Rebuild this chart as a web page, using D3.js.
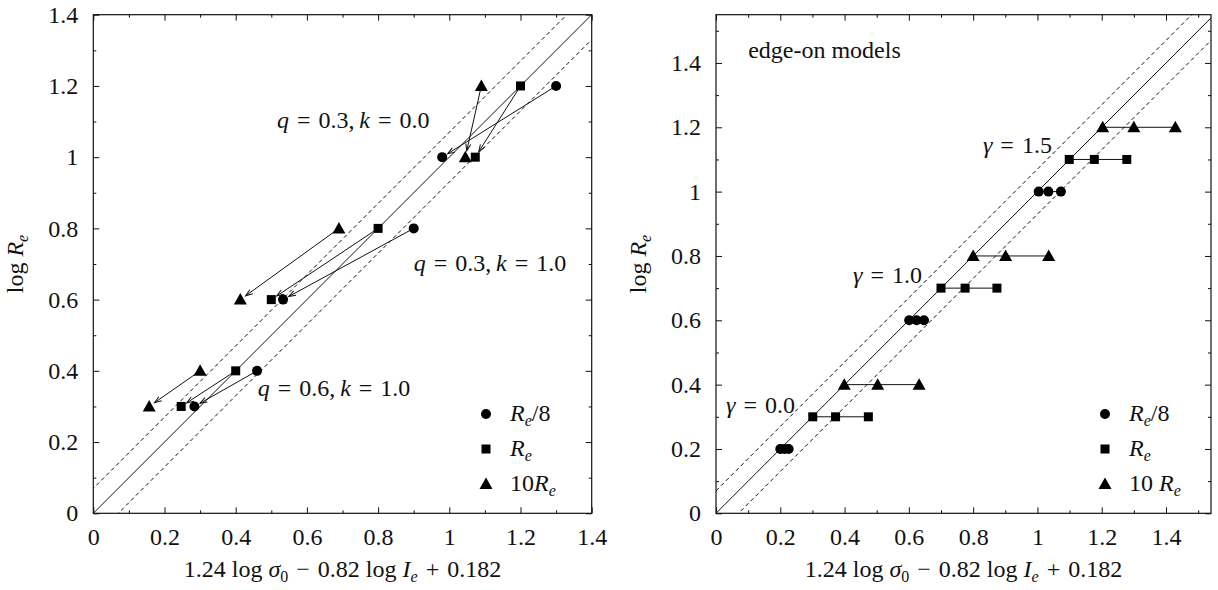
<!DOCTYPE html>
<html>
<head>
<meta charset="utf-8">
<script src="https://cdn.jsdelivr.net/npm/d3@7"></script>
<style>
  body { margin: 0; background: #fff; }
  svg { display: block; font-family: "Liberation Serif", "DejaVu Serif", serif; }
  .tick line { stroke: #111; stroke-width: 1; }
  .frame { fill: none; stroke: #111; stroke-width: 1.2; }
  .fit { fill: none; stroke: #111; stroke-width: 1; }
  .fit.dashed { stroke-dasharray: 4 3; }
  .link { stroke: #111; stroke-width: 1; fill: none; }
  .note { font-size: 24px; fill: #111; white-space: pre; }
</style>
</head>
<body>
<svg id="chart" width="1218" height="590"></svg>
<script>
// ---- data ----

// fitted relation: log Re = x + offset
var fitOffsets = [0, 0.07, -0.07];

// left panel: projected models, each arrow goes from (x0, y0) to (x1, y1)
var leftArrows = [
  // marker, x0, y0, x1, y1
  ['circle',   1.30,  1.2, 0.98,  1.0],
  ['square',   1.20,  1.2, 1.073, 1.0],
  ['triangle', 1.09,  1.2, 1.045, 1.0],
  ['circle',   0.90,  0.8, 0.533, 0.6],
  ['square',   0.80,  0.8, 0.50,  0.6],
  ['triangle', 0.69,  0.8, 0.413, 0.6],
  ['circle',   0.46,  0.4, 0.284, 0.3],
  ['square',   0.40,  0.4, 0.247, 0.3],
  ['triangle', 0.30,  0.4, 0.157, 0.3]
];

var leftNotes = [['0.3', '0.0'], ['0.3', '1.0'], ['0.6', '1.0']];   // q, k

// right panel: edge-on models, one row per aperture and gamma
var rightRows = [
  ['circle',   0.2, [0.200, 0.213, 0.226]],
  ['square',   0.3, [0.301, 0.372, 0.474]],
  ['triangle', 0.4, [0.399, 0.503, 0.632]],
  ['circle',   0.6, [0.601, 0.624, 0.647]],
  ['square',   0.7, [0.700, 0.775, 0.874]],
  ['triangle', 0.8, [0.800, 0.901, 1.035]],
  ['circle',   1.0, [1.004, 1.034, 1.073]],
  ['square',   1.1, [1.099, 1.177, 1.278]],
  ['triangle', 1.2, [1.203, 1.300, 1.429]]
];

var gammaNotes = ['0.0', '1.0', '1.5'];

var legendLeft = [['circle', 'R', '/8', ''], ['square', 'R', '', ''], ['triangle', 'R', '', '10']];
var legendRight = [['circle', 'R', '/8', ''], ['square', 'R', '', ''], ['triangle', 'R', '', '10 ']];

var majorTicks = [0, 0.2, 0.4, 0.6, 0.8, 1.0, 1.2, 1.4];
var minorTicksLeft = [0.1, 0.3, 0.5, 0.7, 0.9, 1.1, 1.3];
var minorTicksRight = [0.1, 0.3, 0.5, 0.7, 0.9, 1.1, 1.3, 1.5];

// ---- drawing ----
var svg = d3.select('#chart');
var EQ = '\u2004=\u2004';
var SERIF = '"Liberation Serif", "DejaVu Serif", serif';

function fmt(d) { return String(+d.toFixed(1)); }

function symbol(g, kind, cx, cy) {
  if (kind === 'circle') {
    g.append('circle').attr('cx', cx).attr('cy', cy).attr('r', 5).attr('fill', '#000');
  } else if (kind === 'square') {
    g.append('rect').attr('x', cx - 4.5).attr('y', cy - 4.5)
     .attr('width', 9).attr('height', 9).attr('fill', '#000');
  } else {
    g.append('path')
     .attr('d', 'M' + (cx - 6.5) + ',' + (cy + 5) + 'L' + (cx + 6.5) + ',' + (cy + 5) + 'L' + cx + ',' + (cy - 6.5) + 'Z')
     .attr('fill', '#000');
  }
}

// subscript-e label such as R_e/8, 10 R_e
function reLabel(text, pre, sym, post) {
  if (pre) text.append('tspan').text(pre);
  text.append('tspan').attr('font-style', 'italic').text(sym);
  text.append('tspan').attr('font-style', 'italic').attr('font-size', '16px').attr('dy', 5).text('e');
  if (post) text.append('tspan').attr('dy', -5).text(post);
}

function panel(opts) {
  var x = d3.scaleLinear().domain([0, opts.xmax]).range([opts.left, opts.right]);
  var y = d3.scaleLinear().domain([0, opts.ymax]).range([513.3, 14.7]);
  var g = svg.append('g');

  var clipId = 'clip' + opts.id;
  svg.append('clipPath').attr('id', clipId).append('rect')
     .attr('x', x(0)).attr('y', y(opts.ymax))
     .attr('width', x(opts.xmax) - x(0)).attr('height', y(0) - y(opts.ymax));

  // axes with inward ticks, mirrored on top and right
  function addAxis(axis, tr, labels) {
    var a = g.append('g').attr('transform', tr).call(axis);
    a.select('.domain').remove();
    a.style('font-family', SERIF).style('font-size', '24px');
    if (!labels) a.selectAll('text').remove();
    a.selectAll('text').style('font-family', SERIF).style('font-size', '24px').attr('fill', '#111');
    return a;
  }
  var minor = opts.minor;
  addAxis(d3.axisBottom(x).tickValues(majorTicks).tickSize(-6).tickPadding(15).tickFormat(fmt), 'translate(0,' + y(0) + ')', true);
  addAxis(d3.axisBottom(x).tickValues(minor).tickSize(-3), 'translate(0,' + y(0) + ')', false);
  addAxis(d3.axisTop(x).tickValues(majorTicks).tickSize(-6), 'translate(0,' + y(opts.ymax) + ')', false);
  addAxis(d3.axisTop(x).tickValues(minor).tickSize(-3), 'translate(0,' + y(opts.ymax) + ')', false);
  addAxis(d3.axisLeft(y).tickValues(majorTicks).tickSize(-6).tickPadding(15).tickFormat(fmt), 'translate(' + x(0) + ',0)', true);
  addAxis(d3.axisLeft(y).tickValues(minor).tickSize(-3), 'translate(' + x(0) + ',0)', false);
  addAxis(d3.axisRight(y).tickValues(majorTicks).tickSize(-6), 'translate(' + x(opts.xmax) + ',0)', false);
  addAxis(d3.axisRight(y).tickValues(minor).tickSize(-3), 'translate(' + x(opts.xmax) + ',0)', false);

  // fitted relation and its scatter band
  var fits = g.append('g').attr('clip-path', 'url(#' + clipId + ')');
  fitOffsets.forEach(function(off) {
    var line = d3.line().x(function(d) { return x(d); }).y(function(d) { return y(d + off); });
    fits.append('path').datum([-0.2, 1.8])
        .attr('class', off === 0 ? 'fit' : 'fit dashed')
        .attr('d', line);
  });

  g.append('rect').attr('class', 'frame')
   .attr('x', x(0)).attr('y', y(opts.ymax))
   .attr('width', x(opts.xmax) - x(0)).attr('height', y(0) - y(opts.ymax));

  // axis titles
  var xt = g.append('text').attr('class', 'note').attr('text-anchor', 'middle')
            .attr('x', (x(0) + x(opts.xmax)) / 2).attr('y', 577);
  xt.append('tspan').text('1.24 log ');
  xt.append('tspan').attr('font-style', 'italic').text('σ');
  xt.append('tspan').attr('font-size', '16px').attr('dy', 5).text('0');
  xt.append('tspan').attr('dy', -5).text('\u2004−\u20040.82 log ');
  xt.append('tspan').attr('font-style', 'italic').text('I');
  xt.append('tspan').attr('font-style', 'italic').attr('font-size', '16px').attr('dy', 5).text('e');
  xt.append('tspan').attr('dy', -5).text('\u2004+\u20040.182');

  var yt = g.append('text').attr('class', 'note').attr('text-anchor', 'middle')
            .attr('transform', 'translate(' + (x(0) - 70) + ',' + ((y(0) + y(opts.ymax)) / 2) + ') rotate(-90)');
  yt.append('tspan').text('log ');
  yt.append('tspan').attr('font-style', 'italic').text('R');
  yt.append('tspan').attr('font-style', 'italic').attr('font-size', '16px').attr('dy', 5).text('e');

  // legend
  opts.legend.forEach(function(d, i) {
    var ly = 414 + i * 35;
    symbol(g, d[0], opts.legendX, ly);
    var t = g.append('text').attr('class', 'note').attr('x', opts.legendX + 24).attr('y', ly + 7);
    reLabel(t, d[3], d[1], d[2]);
  });

  return { g: g, x: x, y: y };
}

// ---- left panel ----
var L = panel({ id: 'L', left: 93.3, right: 591.7, xmax: 1.4, ymax: 1.4, minor: minorTicksLeft,
                legend: legendLeft, legendX: 486 });

svg.append('defs').append('marker')
   .attr('id', 'head').attr('viewBox', '-8 -4 10 8')
   .attr('refX', 0).attr('refY', 0)
   .attr('markerWidth', 10).attr('markerHeight', 8)
   .attr('markerUnits', 'userSpaceOnUse')
   .attr('orient', 'auto')
   .append('path').attr('d', 'M-7,-2.5L0,0L-7,2.5').attr('fill', 'none').attr('stroke', '#111').attr('stroke-width', 1);

leftArrows.forEach(function(d) {
  var x0 = L.x(d[1]), y0 = L.y(d[2]), x1 = L.x(d[3]), y1 = L.y(d[4]);
  var len = Math.hypot(x1 - x0, y1 - y0), cut = 6.5;
  L.g.append('line').attr('class', 'link')
     .attr('x1', x0).attr('y1', y0)
     .attr('x2', x1 - (x1 - x0) * cut / len).attr('y2', y1 - (y1 - y0) * cut / len)
     .attr('marker-end', 'url(#head)');
});
leftArrows.forEach(function(d) {
  symbol(L.g, d[0], L.x(d[1]), L.y(d[2]));
  symbol(L.g, d[0], L.x(d[3]), L.y(d[4]));
});

var leftNotePos = [[0.516, 1.082], [0.90, 0.68], [0.462, 0.33]];
leftNotes.forEach(function(qk, i) {
  var t = L.g.append('text').attr('class', 'note')
             .attr('x', L.x(leftNotePos[i][0])).attr('y', L.y(leftNotePos[i][1]));
  t.append('tspan').attr('font-style', 'italic').text('q');
  t.append('tspan').text(EQ + qk[0] + ',\u2009');
  t.append('tspan').attr('font-style', 'italic').text('k');
  t.append('tspan').text(EQ + qk[1]);
});

// ---- right panel ----
var R = panel({ id: 'R', left: 716, right: 1211, xmax: 1.54, ymax: 1.55, minor: minorTicksRight,
                legend: legendRight, legendX: 1105 });

rightRows.forEach(function(d) {
  var xs = d[2];
  R.g.append('line').attr('class', 'link')
     .attr('x1', R.x(d3.min(xs))).attr('x2', R.x(d3.max(xs)))
     .attr('y1', R.y(d[1])).attr('y2', R.y(d[1]));
  xs.forEach(function(v) { symbol(R.g, d[0], R.x(v), R.y(d[1])); });
});

R.g.append('text').attr('class', 'note').attr('x', R.x(0.1)).attr('y', R.y(1.416)).text('edge-on models');

var gammaPos = [[0.246, 0.312], [0.641, 0.716], [1.045, 1.12]];
gammaNotes.forEach(function(s, i) {
  var t = R.g.append('text').attr('class', 'note').attr('text-anchor', 'end')
             .attr('x', R.x(gammaPos[i][0])).attr('y', R.y(gammaPos[i][1]));
  t.append('tspan').attr('font-style', 'italic').text('γ');
  t.append('tspan').text(EQ + s);
});
</script>
</body>
</html>
